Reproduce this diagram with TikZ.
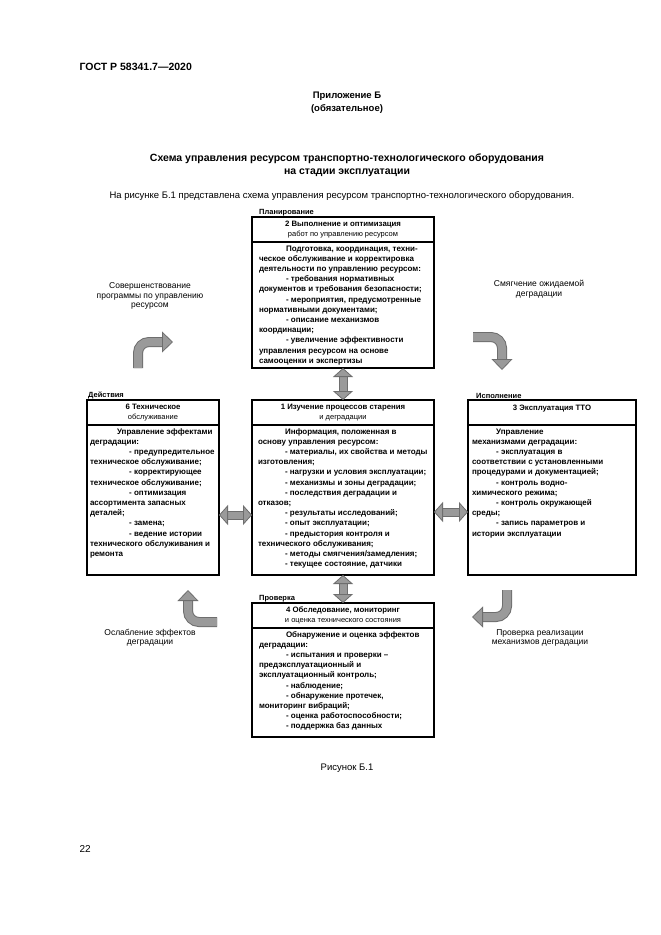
\documentclass[tikz,border=0pt]{standalone}
\usepackage{fontspec}
\setmainfont{Liberation Sans}
\usepackage{tikz}
\usetikzlibrary{positioning}
\usetikzlibrary{arrows.meta}

\definecolor{arrowfill}{HTML}{9A9A9A}
\definecolor{arrowedge}{HTML}{6E6E6E}

\newcommand{\ind}[1][27pt]{\hspace*{#1}}
\newcommand{\boxbody}[3]{\parbox[t][#1][t]{#2}{\raggedright\fontsize{8}{10.2}\selectfont\bfseries\rule{0pt}{9pt}#3}}

\begin{document}
\begin{tikzpicture}
	[x=1pt, y=-1pt,
	hdr/.style = {draw, line width=1.8pt, outer sep=0pt, inner sep=1pt, align=center,
		minimum height=25pt, font=\fontsize{7.8}{9.5}\selectfont},
	body/.style = {draw, line width=1.8pt, outer sep=0pt, inner ysep=0pt, inner xsep=7pt},
	tag/.style = {inner sep=1pt, font=\fontsize{7.5}{9}\selectfont\bfseries},
	note/.style = {align=center, inner sep=0pt, font=\fontsize{8.5}{9.5}\selectfont},
	dbl/.style = {draw=arrowedge, double=arrowfill, double distance=7pt, line width=1pt,
		{Triangle[length=9pt,width=20pt,line width=0.8pt,fill=arrowfill]}-{Triangle[length=9pt,width=20pt,line width=0.8pt,fill=arrowfill]}},
	bent/.style = {draw=arrowedge, double=arrowfill, double distance=8pt, line width=1pt, rounded corners=11pt,
		-{Triangle[length=11pt,width=21pt,line width=0.8pt,fill=arrowfill]}}]
	\fill[white] (0,0) rectangle (661,935);
	\useasboundingbox (0,0) rectangle (661,935);

	% page text
	\node[anchor=west, font=\fontsize{10.5}{12}\selectfont\bfseries] (gost) at (76,67) {ГОСТ Р 58341.7—2020};
	\node[align=center, font=\fontsize{9.5}{13}\selectfont\bfseries] (app) at (347,103) {Приложение Б\\(обязательное)};
	\node[align=center, font=\fontsize{10.5}{13}\selectfont\bfseries] (title) at (347,165)
		{Схема управления ресурсом транспортно-технологического оборудования\\на стадии эксплуатации};
	\node[anchor=west, font=\fontsize{9.5}{12}\selectfont] (intro) at (106,196)
		{На рисунке Б.1 представлена схема управления ресурсом транспортно-технологического оборудования.};

	% 2 - top
	\node[hdr, minimum width=182pt, anchor=north west] (h2) at (252,217)
		{\textbf{2 Выполнение и оптимизация}\\{\fontsize{7.5}{9.5}\selectfont работ по управлению ресурсом}};
	\node[body, below=0pt of h2] (b2) {\boxbody{126pt}{168pt}{%
		\ind Подготовка, координация, техни-\\
		ческое обслуживание и корректировка\\
		деятельности по управлению ресурсом:\\
		\ind - требования нормативных\\
		документов и требования безопасности;\\
		\ind - мероприятия, предусмотренные\\
		нормативными документами;\\
		\ind - описание механизмов\\
		координации;\\
		\ind - увеличение эффективности\\
		управления ресурсом на основе\\
		самооценки и экспертизы}};
	\node[tag, above right=0pt and 6pt of h2.north west] (plan) {Планирование};

	% 1 - centre
	\node[hdr, minimum width=182pt, anchor=north west] (h1) at (252,400)
		{\textbf{1 Изучение процессов старения}\\{\fontsize{7.5}{9.5}\selectfont и деградации}};
	\node[body, inner xsep=6pt, below=0pt of h1] (b1) {\boxbody{150pt}{170pt}{%
		\ind Информация, положенная в\\
		основу управления ресурсом:\\
		\ind - материалы, их свойства и методы\\
		изготовления;\\
		\ind - нагрузки и условия эксплуатации;\\
		\ind - механизмы и зоны деградации;\\
		\ind - последствия деградации и\\
		отказов;\\
		\ind - результаты исследований;\\
		\ind - опыт эксплуатации;\\
		\ind - предыстория контроля и\\
		технического обслуживания;\\
		\ind - методы смягчения/замедления;\\
		\ind - текущее состояние, датчики}};

	% 6 - left
	\node[hdr, minimum width=132pt, anchor=north west] (h6) at (87,400)
		{\textbf{6 Техническое}\\{\fontsize{7.5}{9.5}\selectfont обслуживание}};
	\node[body, inner xsep=3pt, below=0pt of h6] (b6) {\boxbody{150pt}{126pt}{%
		\ind Управление эффектами\\
		деградации:\\
		\ind[37pt] - предупредительное\\
		техническое обслуживание;\\
		\ind[37pt] - корректирующее\\
		техническое обслуживание;\\
		\ind[37pt] - оптимизация\\
		ассортимента запасных\\
		деталей;\\
		\ind[37pt] - замена;\\
		\ind[37pt] - ведение истории\\
		технического обслуживания и\\
		ремонта}};
	\node[tag, above right=0pt and 0pt of h6.north west] (act) {Действия};

	% 3 - right
	\node[hdr, minimum width=168pt, anchor=north west] (h3) at (468,400)
		{\textbf{3 Эксплуатация ТТО}\\\mbox{}};
	\node[body, inner xsep=4pt, below=0pt of h3] (b3) {\boxbody{150pt}{160pt}{%
		\ind[22pt] Управление\\
		механизмами деградации:\\
		\ind[22pt] - эксплуатация в\\
		соответствии с установленными\\
		процедурами и документацией;\\
		\ind[22pt] - контроль водно-\\
		химического режима;\\
		\ind[22pt] - контроль окружающей\\
		среды;\\
		\ind[22pt] - запись параметров и\\
		истории эксплуатации}};
	\node[tag, above right=0pt and 7pt of h3.north west] (exe) {Исполнение};

	% 4 - bottom
	\node[hdr, minimum width=182pt, anchor=north west] (h4) at (252,603)
		{\textbf{4 Обследование, мониторинг}\\{\fontsize{7.5}{9.5}\selectfont и оценка технического состояния}};
	\node[body, below=0pt of h4] (b4) {\boxbody{109pt}{168pt}{%
		\ind Обнаружение и оценка эффектов\\
		деградации:\\
		\ind - испытания и проверки –\\
		предэксплуатационный и\\
		эксплуатационный контроль;\\
		\ind - наблюдение;\\
		\ind - обнаружение протечек,\\
		мониторинг вибраций;\\
		\ind - оценка работоспособности;\\
		\ind - поддержка баз данных}};
	\node[tag, above right=0pt and 6pt of h4.north west] (chk) {Проверка};

	% links
	\draw[dbl] (b2.south) -- (h1.north);
	\draw[dbl] (b1.south) -- (h4.north);
	\draw[dbl] ([yshift=-15pt]b6.east) -- ([yshift=-15pt]b1.west);
	\draw[dbl] ([yshift=-12pt]b1.east) -- ([yshift=-12pt]b3.west);

	% corner notes and bent arrows
	\node[note] (n1) at (150,296) {Совершенствование\\программы по управлению\\ресурсом};
	\node[note] (n2) at (539,289) {Смягчение ожидаемой\\деградации};
	\node[note] (n3) at (150,638) {Ослабление эффектов\\деградации};
	\node[note] (n4) at (540,638) {Проверка реализации\\механизмов деградации};
	\draw[bent] (138,368) |- (173,342);
	\draw[bent] (473,337) -| (502,370);
	\draw[bent] (217,622) -| (188,590);
	\draw[bent] (507,590) |- (472,617);

	\node[font=\fontsize{9.5}{12}\selectfont] (cap) at (347,768) {Рисунок Б.1};
	\node[anchor=west, font=\fontsize{10}{12}\selectfont] (page) at (76,849) {22};
\end{tikzpicture}
\end{document}
